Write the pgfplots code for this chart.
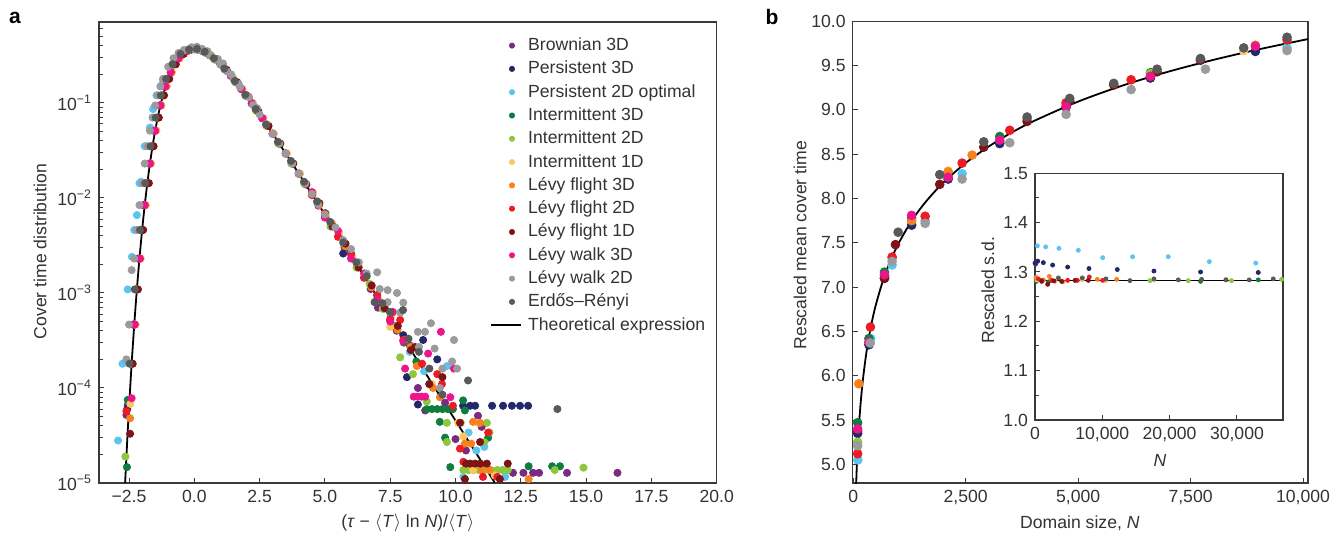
\documentclass[border=0pt]{standalone}
\usepackage{fontspec}
\setmainfont{Liberation Sans}
\usepackage{pgfplots}
\pgfplotsset{compat=1.18}

\definecolor{cBrown}{HTML}{7B2A82}
\definecolor{cPers}{HTML}{23286B}
\definecolor{cPersOpt}{HTML}{5BC5F0}
\definecolor{cInt3}{HTML}{0E7D3F}
\definecolor{cInt2}{HTML}{8DC63F}
\definecolor{cInt1}{HTML}{FDC65D}
\definecolor{cLF3}{HTML}{F5821F}
\definecolor{cLF2}{HTML}{ED1C24}
\definecolor{cLF1}{HTML}{7F1416}
\definecolor{cLW3}{HTML}{EC168C}
\definecolor{cLW2}{HTML}{9B9B9E}
\definecolor{cER}{HTML}{58595B}
\definecolor{txt}{HTML}{333333}
\definecolor{axln}{HTML}{3A3A3A}

\newcommand{\fs}{\fontsize{8.8}{10.5}\selectfont}

\pgfplotsset{
  panel/.style={
    scale only axis,
    axis line style={axln, line width=0.6pt},
    every tick/.style={axln, line width=0.5pt},
    tick align=inside,
    major tick length=2.6pt,
    minor tick length=1.8pt,
    xtick pos=bottom, ytick pos=left,
    scaled x ticks=false, scaled y ticks=false,
    tick label style={font=\fs, text=txt},
    label style={font=\fs, text=txt},
    clip=true,
  },
  sc/.style={only marks, mark=*, mark size=1.8pt, color=#1,
    legend image code/.code={\path[draw=none,fill=none] (0pt,-1pt) rectangle (15pt,1pt); \fill (10.35pt,0pt) circle (1.3pt);}},
  sb/.style={only marks, mark=*, mark size=2.2pt, color=#1},
  si/.style={only marks, mark=*, mark size=1.0pt, color=#1},
}

\begin{document}
\begin{tikzpicture}
\useasboundingbox (0pt,0pt) rectangle (672pt,268.5pt);

% ---------------- panel a ----------------
\begin{axis}[panel,
  at={(49.5pt,27pt)}, anchor=south west,
  width=308.85pt, height=230.5pt,
  ymode=log,
  xmin=-3.65, xmax=20, ymin=1e-5, ymax=0.71,
  xtick={-2.5,0,2.5,5,7.5,10,12.5,15,17.5,20},
  xticklabels={−2.5,0.0,2.5,5.0,7.5,10.0,12.5,15.0,17.5,20.0},
  ytick={1e-5,1e-4,1e-3,1e-2,1e-1},
  yticklabels={10\textsuperscript{−5},10\textsuperscript{−4},10\textsuperscript{−3},10\textsuperscript{−2},10\textsuperscript{−1}},
  minor ytick={2e-5,3e-5,4e-5,5e-5,6e-5,7e-5,8e-5,9e-5,2e-4,3e-4,4e-4,5e-4,6e-4,7e-4,8e-4,9e-4,2e-3,3e-3,4e-3,5e-3,6e-3,7e-3,8e-3,9e-3,2e-2,3e-2,4e-2,5e-2,6e-2,7e-2,8e-2,9e-2,0.2,0.3,0.4,0.5,0.6,0.7},
  xlabel={(\textit{τ} − \ensuremath{\langle}\textit{T}\ensuremath{\rangle} ln \textit{N})/\ensuremath{\langle}\textit{T}\ensuremath{\rangle}},
  ylabel={Cover time distribution},
  xlabel style={at={(axis description cs:0.5,-0.0868)}, anchor=center},
  ylabel style={at={(axis description cs:-0.0955,0.502)}, anchor=center},
  legend style={draw=none, fill=none, at={(0.633,0.975)}, anchor=north west,
    inner sep=0pt, font=\fs, text=txt, row sep=0pt, column sep=3pt,
    nodes={inner ysep=1.5pt, inner xsep=0pt, text height=6.8pt, text depth=1.85pt}},
  legend cell align=left,
]
\addplot[sc=cBrown] coordinates {
(-2.60,5.2e-5) (-2.55,6.6e-5) (-2.40,1.8e-4) (-2.24,1.09e-3) (-2.0,4.6e-3) (-1.83,1.43e-2) (-1.6,3.5e-2) (-1.42,7.0e-2) (-1.2,0.12) (-1.02,0.179) (-0.75,0.255) (-0.47,0.327) (-0.15,0.364) (0.15,0.364) (0.45,0.337) (0.8,0.287) (1.2,0.223) (1.6,0.165) (2.0,0.118) (2.4,0.0828) (2.8,0.0572) (3.25,0.0373) (3.75,0.023) (4.25,0.0141) (4.75,8.3e-3) (5.25,5.4e-3) (5.75,3.0e-3) (6.25,2.0e-3) (6.75,1.1e-3) (7.03,7.0e-4) (7.25,7.4e-4) (7.75,4.0e-4) (8.25,2.8e-4) (8.56,1.0e-4) (8.84,5.8e-5) (9.6,7e-5) (10.0,2.9e-5) (10.4,2.2e-5) (10.86,5.1e-5) (11.0,3.9e-5) (12.2,1.28e-5) (12.6,1.28e-5) (12.97,1.28e-5) (13.2,1.28e-5) (14.27,1.28e-5) (16.2,1.28e-5)};
\addlegendentry{Brownian 3D}
\addplot[sc=cPers] coordinates {
(-2.57,6.0e-5) (-2.35,4.65e-4) (-2.15,2.3e-3) (-1.95,8.4e-3) (-1.73,2.3e-2) (-1.55,5.1e-2) (-1.33,9.4e-2) (-1.12,0.149) (-0.9,0.21) (-0.6,0.295) (-0.3,0.35) (0,0.368) (0.3,0.353) (0.6,0.317) (1.0,0.255) (1.4,0.193) (1.8,0.14) (2.2,0.0992) (2.6,0.069) (3.0,0.0474) (3.5,0.0293) (4.0,0.018) (4.5,0.0112) (5.0,6.5e-3) (5.7,2.6e-3) (6.0,2.6e-3) (6.5,1.45e-3) (7.0,9.5e-4) (7.5,5.2e-4) (8.0,3.6e-4) (8.14,1.3e-4) (8.76,3.2e-4) (8.56,6.7e-5) (9.3,2.0e-4) (9.0,1.1e-4) (10.29,6.5e-5) (10.56,6.5e-5) (10.75,6.5e-5) (11.4,6.5e-5) (11.82,6.5e-5) (12.16,6.5e-5) (12.47,6.5e-5) (12.78,6.5e-5)};
\addlegendentry{Persistent 3D}
\addplot[sc=cPersOpt] coordinates {
(-2.92,2.8e-5) (-2.75,1.8e-4) (-2.55,1.09e-3) (-2.39,2.4e-3) (-2.3,4.6e-3) (-2.2,6.6e-3) (-2.1,1.43e-2) (-2.04,1.48e-2) (-1.9,3.5e-2) (-1.7,5.5e-2) (-1.58,8.6e-2) (-1.45,0.12) (-1.21,0.163) (-0.87,0.25) (-0.6,0.327) (-0.25,0.364) (0.1,0.364) (0.45,0.337) (0.8,0.287) (1.2,0.223) (1.6,0.165) (2.0,0.118) (2.4,0.0828) (2.8,0.0572) (3.25,0.0373) (3.75,0.023) (4.25,0.0141) (4.75,8.58e-3) (5.25,5.22e-3) (5.75,3.3e-3) (6.25,1.9e-3) (6.75,1.2e-3) (7.25,6.8e-4) (7.75,4.4e-4) (8.25,2.4e-4) (8.8,1.5e-4) (9.67,1.7e-4) (10.5,3.4e-5) (10.8,2.2e-5) (10.3,1.16e-5) (11.9,1.16e-5) (11.1,2.4e-5)};
\addlegendentry{Persistent 2D optimal}
\addplot[sc=cInt3] coordinates {
(-2.58,1.47e-5) (-2.55,7.5e-5) (-2.28,4.65e-4) (-2.08,2.3e-3) (-1.88,8.4e-3) (-1.68,2.3e-2) (-1.48,5.1e-2) (-1.28,9.4e-2) (-1.08,0.149) (-0.88,0.21) (-0.58,0.295) (-0.28,0.35) (0.02,0.368) (0.32,0.353) (0.62,0.317) (1.02,0.255) (1.42,0.193) (1.82,0.14) (2.22,0.0992) (2.62,0.069) (3.02,0.0474) (3.52,0.0293) (4.02,0.018) (4.52,0.0108) (5.02,6.9e-3) (5.52,4.0e-3) (6.02,2.4e-3) (6.52,1.6e-3) (7.02,8.8e-4) (7.52,5.7e-4) (8.02,3.0e-4) (8.5,1.9e-4) (8.9,6e-5) (9.1,6e-5) (9.3,6e-5) (9.5,6e-5) (9.7,6e-5) (9.9,6e-5) (10.29,7.4e-5) (9.6,3e-5) (9.8,1.47e-5) (9.4,4.4e-5) (11.25,3e-5) (10.36,5.8e-5) (10.9,1.5e-5) (12.8,1.5e-5) (13.7,1.5e-5) (14.0,1.5e-5)};
\addlegendentry{Intermittent 3D}
\addplot[sc=cInt2] coordinates {
(-2.64,1.9e-5) (-2.44,1.8e-4) (-2.24,1.09e-3) (-2.04,4.6e-3) (-1.84,1.43e-2) (-1.64,3.5e-2) (-1.44,7.0e-2) (-1.24,0.12) (-1.04,0.179) (-0.79,0.255) (-0.49,0.327) (-0.19,0.364) (0.11,0.364) (0.41,0.337) (0.76,0.287) (1.16,0.223) (1.56,0.165) (1.96,0.118) (2.36,0.0828) (2.76,0.0572) (3.21,0.0373) (3.71,0.023) (4.21,0.0141) (4.71,8.8e-3) (5.21,5.0e-3) (5.71,3.3e-3) (6.21,1.85e-3) (6.71,1.25e-3) (7.21,6.8e-4) (7.71,4.5e-4) (7.88,2.1e-4) (8.37,1.4e-4) (8.9,7.2e-5) (9.67,4.3e-5) (9.67,2.7e-5) (10.2,4.3e-5) (11.2,4.3e-5) (11.1,2.7e-5) (11.3,3.4e-5) (10.3,1.37e-5) (10.5,1.37e-5) (10.7,1.37e-5) (10.9,1.37e-5) (11.1,1.37e-5) (11.35,1.37e-5) (11.6,1.37e-5) (11.8,1.37e-5) (12.0,1.37e-5) (13.8,1.37e-5) (14.9,1.45e-5)};
\addlegendentry{Intermittent 2D}
\addplot[sc=cInt1] coordinates {
(-2.45,6.8e-5) (-2.25,4.65e-4) (-2.05,2.3e-3) (-1.85,8.4e-3) (-1.65,2.3e-2) (-1.45,5.1e-2) (-1.25,9.4e-2) (-1.05,0.149) (-0.85,0.21) (-0.55,0.295) (-0.25,0.35) (0.05,0.368) (0.35,0.353) (0.65,0.317) (1.05,0.255) (1.45,0.193) (1.85,0.14) (2.25,0.0992) (2.65,0.069) (3.05,0.0474) (3.55,0.0293) (4.05,0.018) (4.55,0.0114) (5.05,6.4e-3) (5.55,4.3e-3) (6.05,2.4e-3) (6.55,1.55e-3) (7.05,8.6e-4) (7.5,4.4e-4) (7.55,5.8e-4) (8.05,3.2e-4) (9.1,1.1e-4) (10.1,4.3e-5) (10.86,4.3e-5) (10.3,3.1e-5) (10.67,1.37e-5) (11.5,1.2e-5)};
\addlegendentry{Intermittent 1D}
\addplot[sc=cLF3] coordinates {
(-2.46,4.8e-5) (-2.37,1.8e-4) (-2.17,1.09e-3) (-1.97,4.6e-3) (-1.77,1.43e-2) (-1.57,3.5e-2) (-1.37,7.0e-2) (-1.17,0.12) (-0.97,0.179) (-0.72,0.255) (-0.42,0.327) (-0.12,0.364) (0.18,0.364) (0.48,0.337) (0.83,0.287) (1.23,0.223) (1.63,0.165) (2.03,0.118) (2.43,0.0828) (2.83,0.0572) (3.28,0.0373) (3.78,0.023) (4.28,0.0141) (4.78,8.4e-3) (5.28,5.3e-3) (5.78,3.1e-3) (6.28,1.95e-3) (6.78,1.15e-3) (7.28,7.3e-4) (7.78,4.1e-4) (8.28,2.7e-4) (8.52,1.7e-4) (9.14,1.0e-4) (9.4,8e-5) (10.67,4.4e-5) (10.94,4.3e-5) (10.36,2.6e-5) (10.6,2.6e-5) (11.0,1.37e-5) (11.3,1.37e-5) (12.8,1.1e-5)};
\addlegendentry{Lévy flight 3D}
\addplot[sc=cLF2] coordinates {
(-2.6,5.7e-5) (-2.28,4.65e-4) (-2.08,2.3e-3) (-1.9,8.4e-3) (-1.7,2.3e-2) (-1.5,5.1e-2) (-1.3,9.4e-2) (-1.1,0.149) (-0.9,0.21) (-0.6,0.295) (-0.3,0.35) (0,0.368) (0.3,0.353) (0.6,0.317) (1.0,0.255) (1.4,0.193) (1.8,0.14) (2.2,0.0992) (2.6,0.069) (3.0,0.0474) (3.5,0.0293) (4.0,0.018) (4.5,0.0107) (5.0,6.9e-3) (5.5,3.9e-3) (6.0,2.55e-3) (6.5,1.45e-3) (7.0,9.4e-4) (7.5,5.3e-4) (7.88,5.2e-4) (8.0,3.2e-4) (8.72,1.8e-4) (9.3,1.4e-4) (9.48,1.1e-4) (9.9,6.5e-5) (11.25,3.4e-5) (10.17,2.3e-5) (10.3,1.67e-5) (11.05,1.16e-5) (11.6,1.16e-5)};
\addlegendentry{Lévy flight 2D}
\addplot[sc=cLF1] coordinates {
(-2.46,3.3e-5) (-2.36,1.8e-4) (-2.16,1.09e-3) (-1.96,4.6e-3) (-1.74,1.43e-2) (-1.56,3.5e-2) (-1.36,7.0e-2) (-1.16,0.12) (-0.96,0.179) (-0.71,0.255) (-0.41,0.327) (-0.11,0.364) (0.19,0.364) (0.49,0.337) (0.84,0.287) (1.24,0.223) (1.64,0.165) (2.04,0.118) (2.44,0.0828) (2.84,0.0572) (3.29,0.0373) (3.79,0.023) (4.29,0.0138) (4.79,8.8e-3) (5.29,5.0e-3) (5.79,3.3e-3) (6.29,1.85e-3) (6.79,1.2e-3) (7.29,6.9e-4) (7.79,4.5e-4) (8.29,2.5e-4) (8.45,2.7e-4) (9.0,1.1e-4) (9.5,1.3e-4) (10.17,4.3e-5) (10.94,2.7e-5) (10.4,1.6e-5) (10.56,1.6e-5) (10.75,1.6e-5) (10.95,1.6e-5) (11.2,1.6e-5) (12.0,1.6e-5) (10.36,1.1e-5) (11.7,1.1e-5)};
\addlegendentry{Lévy flight 1D}
\addplot[sc=cLW3] coordinates {
(-2.4,7.8e-5) (-2.3,4.65e-4) (-2.1,2.3e-3) (-1.9,8.4e-3) (-1.7,2.3e-2) (-1.5,5.1e-2) (-1.3,9.4e-2) (-1.1,0.149) (-0.9,0.21) (-0.6,0.295) (-0.3,0.35) (0,0.368) (0.3,0.353) (0.6,0.317) (1.0,0.255) (1.4,0.193) (1.8,0.14) (2.2,0.0992) (2.6,0.069) (3.0,0.0474) (3.5,0.0293) (4.0,0.018) (4.5,0.0115) (5.0,6.2e-3) (5.5,4.5e-3) (6.0,2.3e-3) (6.5,1.6e-3) (7.0,8.5e-4) (7.6,6.3e-4) (7.5,5.0e-4) (8.0,3.1e-4) (8.07,1.6e-4) (8.4,8.1e-5) (8.55,8.1e-5) (8.7,8.1e-5) (8.84,8.1e-5) (8.95,2.3e-4) (9.44,3.9e-4) (9.94,1.6e-4) (9.8,8e-5)};
\addlegendentry{Lévy walk 3D}
\addplot[sc=cLW2] coordinates {
(-2.6,2.0e-4) (-2.5,4.65e-4) (-2.4,1.74e-3) (-2.3,2.3e-3) (-2.2,4.6e-3) (-2.1,8.4e-3) (-2.0,1.43e-2) (-1.9,2.3e-2) (-1.8,3.5e-2) (-1.7,5.1e-2) (-1.6,7.0e-2) (-1.5,9.4e-2) (-1.4,0.12) (-1.3,0.149) (-1.2,0.179) (-1.0,0.24) (-0.8,0.295) (-0.6,0.336) (-0.4,0.36) (-0.2,0.368) (-0.1,0.385) (0.0,0.366) (0.1,0.39) (0.2,0.361) (0.3,0.37) (0.4,0.343) (0.5,0.35) (0.6,0.317) (0.8,0.287) (0.9,0.29) (1.0,0.255) (1.1,0.26) (1.25,0.215) (1.4,0.2) (1.5,0.1785) (1.7,0.158) (1.75,0.146) (2.0,0.118) (2.1,0.115) (2.25,0.0949) (2.4,0.088) (2.5,0.0756) (2.75,0.06) (3.0,0.0474) (3.25,0.0373) (3.5,0.0293) (3.75,0.023) (4.0,0.018) (4.25,0.0141) (4.5,0.011) (4.75,8.58e-3) (5.0,6.7e-3) (5.4,4.9e-3) (5.7,3.6e-3) (6.0,2.9e-3) (6.3,2.1e-3) (6.6,1.6e-3) (7.0,1.65e-3) (7.1,1.1e-3) (7.4,1.07e-3) (7.4,8e-4) (7.76,1.0e-3) (7.88,6.2e-4) (8.0,7.9e-4) (8.56,3.9e-4) (8.6,2.7e-4) (8.83,3.9e-4) (9.06,4.8e-4) (9.2,2.6e-4) (9.94,3.2e-4) (9.87,1.9e-4) (9.5,1.6e-4) (9.4,1.0e-4) (10.06,1.6e-4)};
\addlegendentry{Lévy walk 2D}
\addplot[sc=cER] coordinates {
(-2.48,1.8e-4) (-2.28,1.09e-3) (-2.08,4.6e-3) (-1.88,1.43e-2) (-1.68,3.5e-2) (-1.48,7.0e-2) (-1.28,0.12) (-1.08,0.179) (-0.83,0.255) (-0.53,0.327) (-0.2,0.364) (0.1,0.37) (0.4,0.345) (0.75,0.295) (1.15,0.23) (1.55,0.17) (1.95,0.122) (2.35,0.086) (2.75,0.059) (3.2,0.039) (3.7,0.0245) (4.2,0.0148) (4.7,9.2e-3) (5.2,5.6e-3) (5.7,3.4e-3) (6.2,2.1e-3) (6.6,1.5e-3) (6.9,8e-4) (7.2,7.8e-4) (7.5,6.3e-4) (7.99,6.6e-4) (8.2,3.3e-4) (8.6,2.4e-4) (9.0,1.6e-4) (9.5,8.5e-5) (10.48,1.2e-4) (13.9,6e-5)};
\addlegendentry{Erdős–Rényi}
\addplot[black, line width=0.9pt, smooth,
  legend image code/.code={\draw[line width=0.9pt] (0pt,0pt) -- (15pt,0pt);}] coordinates {
(-2.65,1.0e-5) (-2.6,1.91e-5) (-2.55,3.51e-5) (-2.5,6.24e-5) (-2.45,1.07e-4) (-2.4,1.80e-4) (-2.3,4.65e-4) (-2.2,1.087e-3) (-2.1,2.32e-3) (-2.0,4.57e-3) (-1.9,8.35e-3) (-1.8,1.426e-2) (-1.7,2.296e-2) (-1.6,3.50e-2) (-1.5,5.07e-2) (-1.4,7.03e-2) (-1.3,9.36e-2) (-1.2,0.120) (-1.1,0.149) (-1.0,0.179) (-0.8,0.240) (-0.6,0.2946) (-0.4,0.3356) (-0.2,0.3601) (0,0.3679) (0.2,0.3611) (0.4,0.3429) (0.6,0.3170) (0.8,0.2867) (1.0,0.2546) (1.25,0.2151) (1.5,0.1785) (1.75,0.1460) (2.0,0.1182) (2.5,0.0756) (3.0,0.0474) (3.5,0.0293) (4.0,0.01798) (5.0,6.69e-3) (6.0,2.473e-3) (7.0,9.11e-4) (8.0,3.354e-4) (9.0,1.234e-4) (10.0,4.54e-5) (11.0,1.67e-5) (11.5,1.01e-5)};
\addlegendentry{Theoretical expression}
\end{axis}

% ---------------- panel b ----------------
\begin{axis}[panel,
  at={(426.35pt,27pt)}, anchor=south west,
  width=227.65pt, height=230.85pt,
  xmin=-10, xmax=10110, ymin=4.79, ymax=10,
  xtick={0,2500,5000,7500,10000},
  xticklabels={0,{2,500},{5,000},{7,500},{10,000}},
  ytick={5,5.5,6,6.5,7,7.5,8,8.5,9,9.5,10},
  yticklabels={5.0,5.5,6.0,6.5,7.0,7.5,8.0,8.5,9.0,9.5,10.0},
  xlabel={Domain size, \textit{N}},
  ylabel={Rescaled mean cover time},
  xlabel style={at={(axis description cs:0.499,-0.0866)}, anchor=center},
  ylabel style={at={(axis description cs:-0.1157,0.515)}, anchor=center},
]
\addplot[black, line width=0.9pt, smooth] coordinates {
(65,4.751) (80,4.959) (100,5.182) (130,5.445) (170,5.713) (220,5.971) (300,6.281) (400,6.569) (500,6.792) (650,7.054) (800,7.262) (1000,7.485) (1300,7.748) (1600,7.955) (2000,8.178) (2500,8.401) (3000,8.583) (3500,8.738) (4000,8.871) (5000,9.094) (6000,9.277) (7000,9.431) (8000,9.564) (9000,9.682) (10000,9.788) (10110,9.799)};
\addplot[sb=cBrown] coordinates {(100,5.38) (360,6.36) (700,7.12) (3258,8.64) (6607,9.37)};
\addplot[sb=cPers] coordinates {(100,5.35) (350,6.35) (696,7.10) (1300,7.70) (2111,8.22) (3258,8.62) (4733,9.03) (6607,9.36) (8940,9.66)};
\addplot[sb=cPersOpt] coordinates {(103,5.05) (390,6.42) (866,7.25) (1600,7.75) (2422,8.28) (9644,9.70)};
\addplot[sb=cInt3] coordinates {(100,5.47) (350,6.42) (696,7.17) (1300,7.78) (3258,8.70) (6607,9.42)};
\addplot[sb=cInt2] coordinates {(100,5.25) (866,7.33) (4733,9.06) (6607,9.41)};
\addplot[sb=cInt1] coordinates {(2111,8.31) (4733,9.08) (8681,9.67)};
\addplot[sb=cLF3] coordinates {(125,5.91) (1300,7.75) (2111,8.30) (2644,8.49) (3866,8.90) (8940,9.73)};
\addplot[sb=cLF2] coordinates {(100,5.12) (384,6.55) (866,7.34) (1600,7.80) (2422,8.40) (3481,8.77) (4733,9.08) (6178,9.34) (7720,9.57) (9644,9.79)};
\addplot[sb=cLF1] coordinates {(696,7.10) (940,7.48) (1924,8.16) (2903,8.58) (3866,8.87) (4814,9.10) (5792,9.28) (6755,9.43) (7720,9.56)};
\addplot[sb=cLW3] coordinates {(100,5.40) (350,6.38) (696,7.14) (1300,7.81) (2111,8.24) (3258,8.66) (4733,9.04) (6607,9.38) (8940,9.72)};
\addplot[sb=cLW2] coordinates {(100,5.21) (380,6.37) (866,7.29) (1600,7.72) (2422,8.22) (3481,8.63) (4733,8.95) (6178,9.23) (7830,9.46) (9644,9.67)};
\addplot[sb=cER] coordinates {(1000,7.62) (1924,8.27) (2903,8.64) (3866,8.92) (4814,9.13) (5792,9.30) (6755,9.46) (7720,9.58) (8681,9.70) (9644,9.82)};
\end{axis}

% ---------------- inset ----------------
\begin{axis}[panel,
  at={(517.5pt,58.5pt)}, anchor=south west,
  width=124pt, height=123.35pt,
  axis background/.style={fill=white},
  xmin=0, xmax=36850, ymin=1.0, ymax=1.5,
  xtick={0,10000,20000,30000},
  xticklabels={0,{10,000},{20,000},{30,000}},
  ytick={1.0,1.1,1.2,1.3,1.4,1.5},
  yticklabels={1.0,1.1,1.2,1.3,1.4,1.5},
  minor ytick={1.05,1.15,1.25,1.35,1.45},
  xlabel={\textit{N}},
  ylabel={Rescaled s.d.},
  xlabel style={at={(axis description cs:0.504,-0.162)}, anchor=center},
  ylabel style={at={(axis description cs:-0.19,0.527)}, anchor=center},
]
\addplot[black, line width=0.6pt] coordinates {(0,1.2825) (36850,1.2825)};
\addplot[si=cBrown] coordinates {(100,1.316) (150,1.318)};
\addplot[si=cPersOpt] coordinates {(350,1.353) (1580,1.351) (3560,1.348) (6440,1.344) (10050,1.329) (14500,1.331) (19800,1.331) (25900,1.321) (32800,1.318)};
\addplot[si=cPers] coordinates {(0,1.318) (400,1.322) (1240,1.319) (2620,1.314) (4850,1.310) (8020,1.307) (12230,1.305) (17670,1.302) (24600,1.300) (33170,1.299)};
\addplot[si=cInt3] coordinates {(200,1.281) (2000,1.280) (24600,1.281) (33170,1.284)};
\addplot[si=cInt2] coordinates {(17080,1.2825) (22770,1.2825) (29200,1.2825) (36630,1.285)};
\addplot[si=cInt1] coordinates {(300,1.284) (3000,1.281) (7000,1.284) (10540,1.283) (17670,1.284) (28370,1.285)};
\addplot[si=cLF3] coordinates {(150,1.289) (1240,1.284) (2130,1.291) (4110,1.280) (9260,1.285) (12130,1.285)};
\addplot[si=cLF2] coordinates {(500,1.286) (990,1.2825) (2470,1.283) (4850,1.283) (6290,1.283) (8070,1.290) (10050,1.283)};
\addplot[si=cLF1] coordinates {(990,1.281) (1880,1.275) (2820,1.282) (3960,1.281) (5940,1.283) (7920,1.283)};
\addplot[si=cER] coordinates {(3470,1.288) (7030,1.288) (10540,1.286) (14100,1.2825) (17670,1.286) (21290,1.284) (24750,1.285) (28370,1.284) (31830,1.284) (35400,1.286)};
\end{axis}

\node[font=\bfseries\fontsize{10.5}{12}\selectfont, text=black] at (7.5pt,259.5pt) {a};
\node[font=\bfseries\fontsize{10.5}{12}\selectfont, text=black] at (386pt,260pt) {b};
\end{tikzpicture}
\end{document}
